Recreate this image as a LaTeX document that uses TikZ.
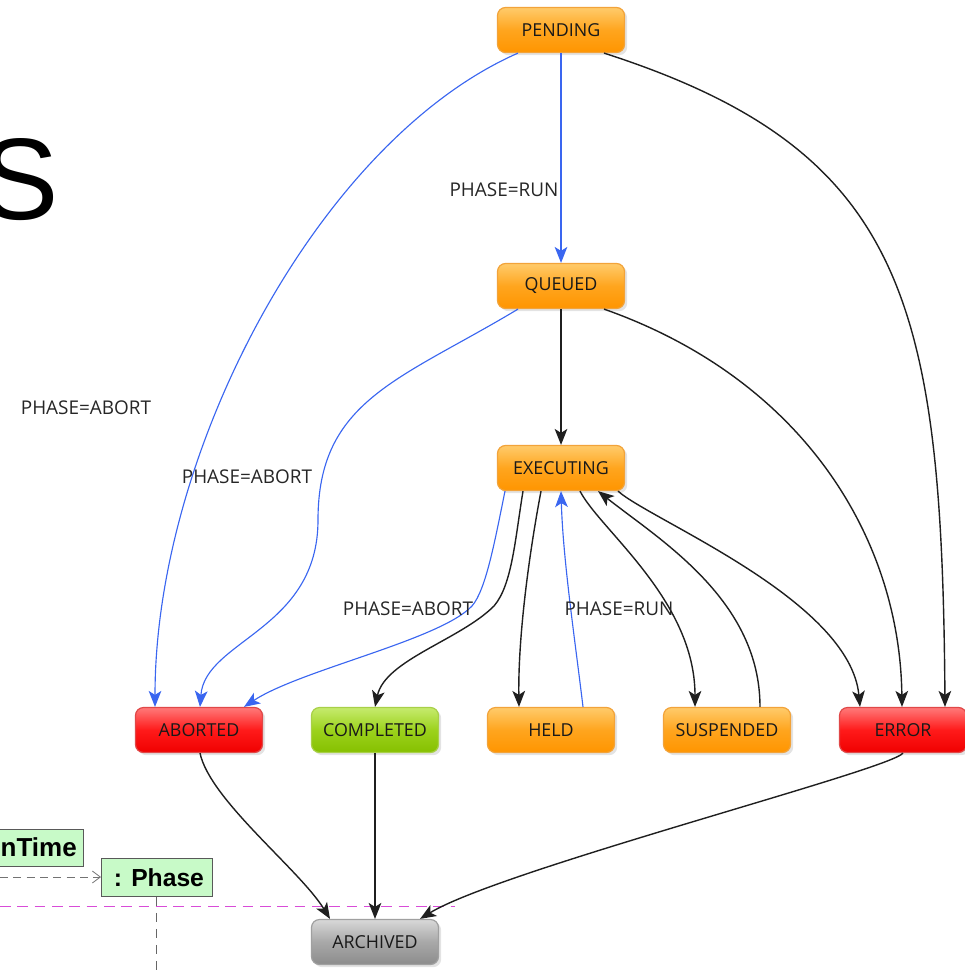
\documentclass[tikz,border=0pt]{standalone}
\usepackage{fontspec}
\setmainfont{Open Sans}
\newfontfamily\libsans{Liberation Sans}
\usetikzlibrary{arrows.meta,calc,shadows}
\definecolor{orT}{HTML}{FFCB6B}
\definecolor{orM}{HTML}{FFA51E}
\definecolor{orB}{HTML}{FF9500}
\definecolor{orD}{HTML}{F2A33A}
\definecolor{rdT}{HTML}{FF7A7A}
\definecolor{rdM}{HTML}{FF1A1A}
\definecolor{rdB}{HTML}{F00000}
\definecolor{rdD}{HTML}{E04848}
\definecolor{grT}{HTML}{C6EB6E}
\definecolor{grM}{HTML}{9CD21C}
\definecolor{grB}{HTML}{86C000}
\definecolor{grD}{HTML}{A8D048}
\definecolor{gyT}{HTML}{D8D8D8}
\definecolor{gyM}{HTML}{A8A8A8}
\definecolor{gyB}{HTML}{8C8C8C}
\definecolor{gyD}{HTML}{A0A0A0}
\definecolor{blueE}{HTML}{3A66F0}
\definecolor{umlgreen}{HTML}{C8FAC8}
\definecolor{magline}{HTML}{D84CD8}
\begin{document}
\begin{tikzpicture}[x=0.75pt,y=-0.75pt,
  stbase/.style={rectangle, rounded corners=6pt, minimum width=95.25pt, minimum height=33.75pt,
    inner sep=0pt, font=\fontsize{13.4}{13.4}\selectfont, text=black!90, line width=0.9pt,
    drop shadow={shadow xshift=2pt, shadow yshift=-2pt, opacity=0.22}},
  orst/.style={stbase, draw=orD, top color=orT, bottom color=orB, middle color=orM},
  rdst/.style={stbase, draw=rdD, top color=rdT, bottom color=rdB, middle color=rdM},
  grst/.style={stbase, draw=grD, top color=grT, bottom color=grB, middle color=grM},
  gyst/.style={stbase, draw=gyD, top color=gyT, bottom color=gyB, middle color=gyM},
  blk/.style={draw=black!88, line width=1.05pt, -{Stealth[length=12pt,width=9.5pt,inset=3pt]}},
  blu/.style={draw=blueE, line width=0.85pt, -{Stealth[length=12pt,width=9.5pt,inset=3pt]}},
  lbl/.style={font=\fontsize{14.2}{14.2}\selectfont, text=black!85, inner sep=0pt},
  umlbox/.style={draw=black!65, fill=umlgreen, line width=0.6pt, inner sep=0pt,
    font=\libsans\bfseries\fontsize{18.5}{18.5}\selectfont}
]
\useasboundingbox (0,0) rectangle (964,974);

% background slide fragments
\node[anchor=base west, inner sep=0pt, font=\libsans\fontsize{87}{87}\selectfont] (bigS) at (-19,219) {S};
\draw[magline, dashed, dash pattern=on 8pt off 5pt, line width=0.7pt] (0,906) coordinate (m1) -- (455,906) coordinate (m2);
\node[umlbox, minimum width=68pt, minimum height=27.75pt, anchor=north east] (ntime) at (84,829) {};
\node[anchor=east, inner sep=0pt, font=\libsans\bfseries\fontsize{19.5}{19.5}\selectfont] (ntimet) at (77,847) {nTime};
\node[umlbox, minimum width=83.25pt, minimum height=28.5pt, anchor=north west] (phase) at (101,858) {\,: Phase};
\coordinate (g0) at (0,877);
\draw[black!55, dashed, dash pattern=on 6pt off 4pt, line width=0.6pt, -{Straight Barb[length=6pt,width=9pt]}] (g0) -- (phase.west |- g0);
\coordinate (v1) at (156,974);
\draw[black!60, dashed, dash pattern=on 7pt off 5pt, line width=0.6pt] (phase.south -| v1) -- (v1);

% state nodes
\node[orst] (pend) at (561,30) {PENDING};
\node[orst] (queue) at (561,286) {QUEUED};
\node[orst] (exec) at (561,468) {EXECUTING};
\node[rdst] (abort) at (199,730) {ABORTED};
\node[grst] (compl) at (375,730) {COMPLETED};
\node[orst] (held) at (551,730) {HELD};
\node[orst] (susp) at (727,730) {SUSPENDED};
\node[rdst] (err) at (903,730) {ERROR};
\node[gyst] (arch) at (375,942) {ARCHIVED};

% edges
\draw[blu] (pend.south) -- (queue.north);
\draw[blu] ($(pend.south)+(-43,0)$) .. controls (320,140) and (155,450) .. ($(abort.north)+(-44,0)$);
\draw[blk] ($(pend.south)+(43,0)$) .. controls (905,150) and (942,300) .. ($(err.north)+(42,0)$);
\draw[blk] (queue.south) -- (exec.north);
\draw[blu] ($(queue.south)+(-43,0)$) .. controls (400,380) and (318,400) .. (318,520)
   .. controls (318,630) and (205,640) .. ($(abort.north)+(1,0)$);
\draw[blk] ($(queue.south)+(43,0)$) .. controls (805,380) and (900,540) .. ($(err.north)+(-1,0)$);
\draw[blu] ($(exec.south)+(-56,0)$) .. controls (495,540) and (486,590) .. (472,606)
   .. controls (440,640) and (300,670) .. ($(abort.north)+(45,0)$);
\draw[blk] ($(exec.south)+(-38,0)$) .. controls (515,540) and (512,585) .. (494,606)
   .. controls (460,640) and (385,660) .. ($(compl.north)+(0,0)$);
\draw[blk] ($(exec.south)+(-20,0)$) .. controls (528,560) and (518,640) .. ($(held.north)+(-32,0)$);
\draw[blu] ($(held.north)+(32,0)$) .. controls (575,640) and (563,560) .. (exec.south);
\draw[blk] ($(exec.south)+(19,0)$) .. controls (600,530) and (695,600) .. ($(susp.north)+(-32,0)$);
\draw[blk] ($(susp.north)+(33,0)$) .. controls (760,600) and (660,540) .. ($(exec.south)+(37,0)$);
\draw[blk] ($(exec.south)+(57,0)$) .. controls (650,520) and (850,600) .. ($(err.north)+(-43,0)$);
\draw[blk] ($(abort.south)+(1,0)$) .. controls (210,800) and (300,870) .. ($(arch.north)+(-45,0)$);
\draw[blk] (compl.south) -- (arch.north);
\draw[blk] ($(err.south)+(0,0)$) .. controls (890,770) and (500,870) .. ($(arch.north)+(45,0)$);

% labels
\node[lbl] (l1) at (504,190) {PHASE=RUN};
\node[lbl] (l2) at (86,408) {PHASE=ABORT};
\node[lbl] (l3) at (247,477) {PHASE=ABORT};
\node[lbl] (l4) at (408,609) {PHASE=ABORT};
\node[lbl] (l5) at (619,609) {PHASE=RUN};
\end{tikzpicture}
\end{document}
